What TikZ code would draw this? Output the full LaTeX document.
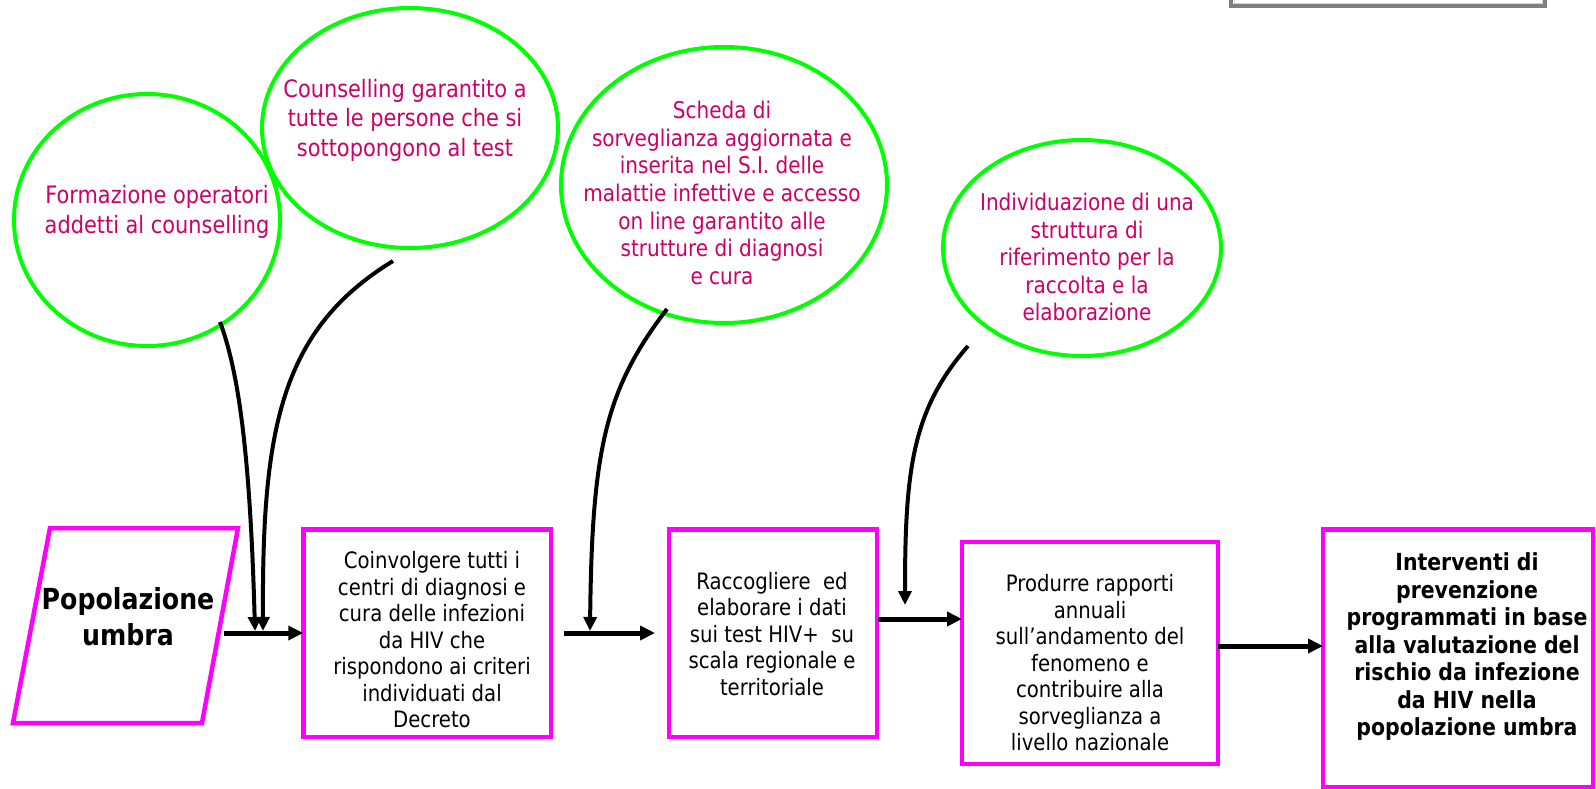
\documentclass[tikz,border=0pt]{standalone}
\usepackage{fontspec}
\setmainfont{DejaVu Sans}[FakeStretch=0.87]
\usetikzlibrary{arrows.meta,shapes.geometric}
\definecolor{mag}{RGB}{255,0,255}
\definecolor{grn}{RGB}{0,255,0}
\definecolor{pinktext}{RGB}{204,0,102}
\definecolor{frdark}{RGB}{128,128,128}
\definecolor{frlight}{RGB}{212,212,212}
\begin{document}
\begin{tikzpicture}[x=1pt,y=-1pt,
  magbox/.style={draw=mag, line width=4.5pt, rectangle, inner sep=0pt, outer sep=0pt},
  bubble/.style={draw=grn, line width=4pt, ellipse, inner sep=0pt, outer sep=0pt},
  btext/.style={text=pinktext, align=center, inner sep=0pt},
  ptext/.style={text=black, align=center, inner sep=0pt},
  curvearrow/.style={draw=black, line width=4pt, -{Triangle[length=14pt,width=13pt]}},
  flowarrow/.style={draw=black, line width=5pt, -{Triangle[length=15pt,width=14pt]}},
  regfont/.style={font=\fontsize{22.6}{26.5}\selectfont},
  boldfont/.style={font=\bfseries\fontsize{23.5}{27.5}\selectfont},
]
\path[use as bounding box, fill=white] (0,0) rectangle (1596,789);
\clip (0,0) rectangle (1596,789);

% frame at top right
\draw[frdark, line width=4pt] (1231.3,-20) rectangle (1545.3,6.2);
\draw[frlight, line width=1pt] (1234,-20) rectangle (1542.5,3.2);

% ellipses
\node[bubble, minimum width=266pt, minimum height=252pt] (eA) at (147,220) {};
\node[bubble, minimum width=296pt, minimum height=240pt] (eB) at (410,128) {};
\node[bubble, minimum width=326pt, minimum height=276pt] (eC) at (724,185) {};
\node[bubble, minimum width=278pt, minimum height=216pt] (eD) at (1082,248) {};

\node[btext, font=\fontsize{24}{30}\selectfont] (tA) at (157,212)
  {Formazione operatori\\addetti al counselling};
\node[btext, font=\fontsize{24}{29.5}\selectfont] (tB) at (405,120)
  {Counselling garantito a\\tutte le persone che si\\sottopongono al test};
\node[btext, font=\fontsize{23}{27.7}\selectfont] (tC) at (722,193)
  {Scheda di\\sorveglianza aggiornata e\\inserita nel S.I. delle\\malattie infettive e accesso\\on line garantito alle\\strutture di diagnosi\\e cura};
\node[btext, font=\fontsize{23}{27.5}\selectfont] (tD) at (1087,257)
  {Individuazione di una\\struttura di\\riferimento per la\\raccolta e la\\elaborazione};

% process shapes
\draw[draw=mag, line width=4.5pt] (50,528) -- (238,528) -- (202,723) -- (13,723) -- cycle;
\node[ptext, font=\bfseries\fontsize{29}{36}\selectfont] (pop) at (128,617) {Popolazione\\umbra};

\node[magbox, minimum width=247.5pt, minimum height=207.5pt] (box1) at (427,633) {};
\node[magbox, minimum width=208pt, minimum height=207.5pt] (box2) at (773,633) {};
\node[magbox, minimum width=256pt, minimum height=222pt] (box3) at (1090,653) {};
\node[magbox, minimum width=270pt, minimum height=257.5pt] (box4) at (1458,658) {};

\node[ptext, regfont] (t1) at (432,640)
  {Coinvolgere tutti i\\centri di diagnosi e\\cura delle infezioni\\da HIV che\\rispondono ai criteri\\individuati dal\\Decreto};
\node[ptext, regfont] (t2) at (772,634)
  {Raccogliere\ \ ed\\elaborare i dati\\sui test HIV+\ \ su\\scala regionale e\\territoriale};
\node[ptext, regfont] (t3) at (1090,663)
  {Produrre rapporti\\annuali\\sull’andamento del\\fenomeno e\\contribuire alla\\sorveglianza a\\livello nazionale};
\node[ptext, boldfont] (t4) at (1467,647)
  {Interventi di\\prevenzione\\programmati in base\\alla valutazione del\\rischio da infezione\\da HIV nella\\popolazione umbra};

% horizontal flow arrows
\coordinate (h1s) at (224,633);
\coordinate (h2s) at (564,633);
\coordinate (h2e) at (655,633);
\coordinate (h3s) at (878,619);
\coordinate (h4s) at (1218,646);
\draw[flowarrow] (h1s) -- (box1.west);
\draw[flowarrow] (h2s) -- (h2e);
\draw[flowarrow] (h3s) -- (box3.west |- h3s);
\draw[flowarrow] (h4s) -- (box4.west |- h4s);

% curved arrows from the ellipses
\coordinate (a1s) at (220,322); \coordinate (a1e) at (255,631);
\coordinate (a2s) at (393,261); \coordinate (a2e) at (263,631);
\coordinate (a3s) at (667,309); \coordinate (a3e) at (590,631);
\coordinate (a4s) at (968,346); \coordinate (a4e) at (905,605);
\draw[curvearrow] (a1s) .. controls (238,370) and (250,450) .. (a1e);
\draw[curvearrow] (a2s) .. controls (280,330) and (262,430) .. (a2e);
\draw[curvearrow] (a3s) .. controls (605,390) and (592,450) .. (a3e);
\draw[curvearrow] (a4s) .. controls (912,410) and (905,470) .. (a4e);
\end{tikzpicture}
\end{document}
